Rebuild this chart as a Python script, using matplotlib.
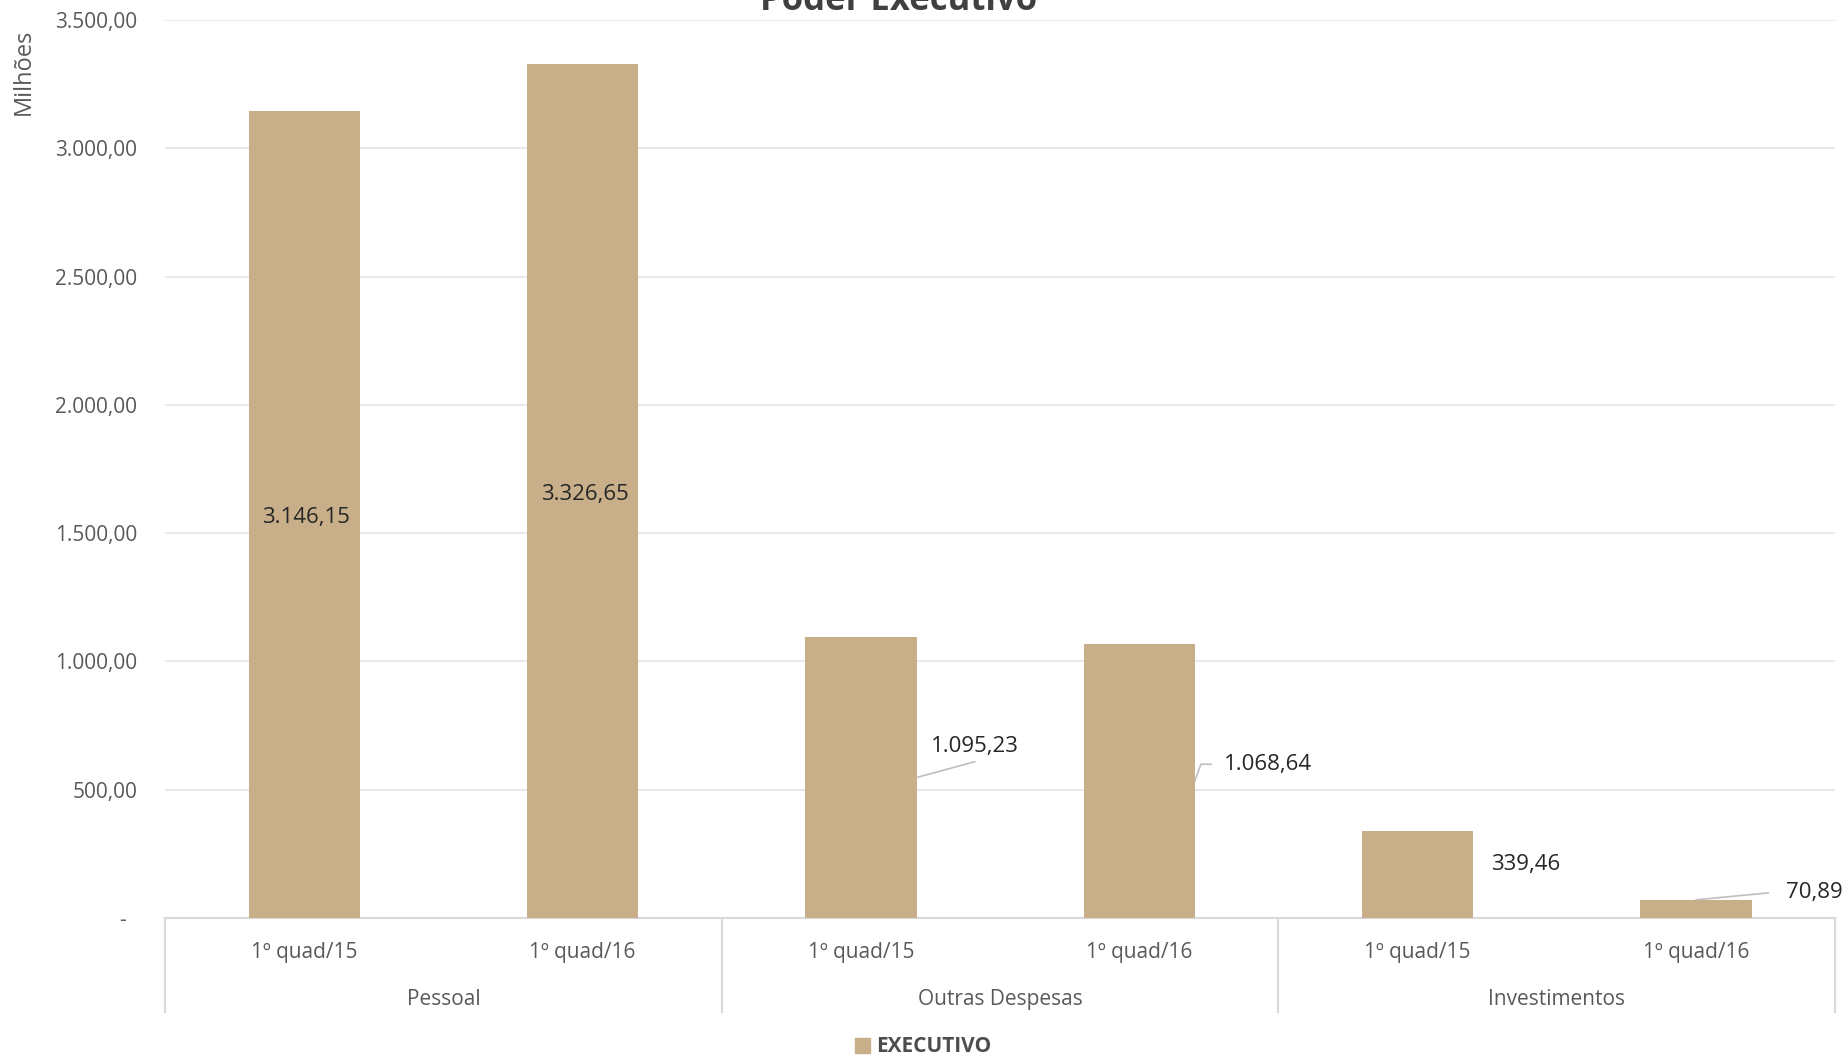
import numpy as np
import matplotlib.pyplot as plt
from matplotlib.patches import Patch

plt.rcParams['font.family'] = ['Open Sans', 'DejaVu Sans']

# data (milhões)
groups = ['Pessoal', 'Outras Despesas', 'Investimentos']
periods = ['1º quad/15', '1º quad/16']
values = [3146.15, 3326.65, 1095.23, 1068.64, 339.46, 70.89]
series_name = 'EXECUTIVO'

bar_color = '#C8AF8A'
grid_color = '#E6E6E6'
text_grey = '#595959'

def br_fmt(v):
    # brazilian number format: 3.146,15
    s = f'{v:,.2f}'
    return s.replace(',', 'X').replace('.', ',').replace('X', '.')

fig = plt.figure(figsize=(18.48, 10.58), dpi=100)
ax = fig.add_axes([0.0893, 0.1323, 0.9037, 0.8488])

x = np.arange(len(values))
width = 0.40
bars = ax.bar(x, values, width=width, color=bar_color, zorder=3)

ax.set_xlim(-0.5, len(values) - 0.5)
ax.set_ylim(0, 3500)
ax.set_yticks(np.arange(0, 3501, 500))
ax.set_yticklabels(['-  ' if t == 0 else br_fmt(t) for t in np.arange(0, 3501, 500)])
ax.yaxis.grid(True, color=grid_color, linewidth=1.3, zorder=0)
ax.tick_params(axis='y', length=0, pad=20, labelsize=15, labelcolor=text_grey)

# period labels under every bar
ax.set_xticks(x)
ax.set_xticklabels(periods * len(groups))
ax.tick_params(axis='x', length=0, pad=17, labelsize=15, labelcolor=text_grey)

for side in ['top', 'right', 'left']:
    ax.spines[side].set_visible(False)
ax.spines['bottom'].set_color('#D9D9D9')
ax.spines['bottom'].set_linewidth(1.5)

# group labels and separators
xt = ax.get_xaxis_transform()
n = len(periods)
for g, name in enumerate(groups):
    center = g * n + (n - 1) / 2
    ax.annotate(name, xy=(center, 0), xycoords=xt, xytext=(0, -59),
                textcoords='offset points', ha='center', va='center',
                fontsize=15, color=text_grey)
for b in range(len(groups) + 1):
    ax.plot([b * n - 0.5] * 2, [0, -0.105], transform=xt, color='#D9D9D9',
            linewidth=1.5, clip_on=False)

# data labels (offsets in points from the anchor)
lead = dict(arrowstyle='-', color='#BFBFBF', linewidth=1.2, shrinkA=0, shrinkB=0)
lab_kw = dict(textcoords='offset points', ha='center', va='center',
              fontsize=16, color='#262626')
ax.annotate(br_fmt(values[0]), xy=(0, values[0] / 2), xytext=(1.5, -2.5), **lab_kw)
ax.annotate(br_fmt(values[1]), xy=(1, values[1] / 2), xytext=(1.5, -2.5), **lab_kw)
ax.annotate(br_fmt(values[2]), xy=(2 + width / 2, values[2] / 2), xytext=(42, 22),
            arrowprops=dict(relpos=(0.5, -0.2), **lead), **lab_kw)
ax.annotate(br_fmt(values[3]), xy=(3 + width / 2, values[3] / 2), xytext=(53, 12),
            arrowprops=dict(relpos=(-0.15, 0.5),
                            connectionstyle='angle,angleA=0,angleB=70,rad=0', **lead),
            **lab_kw)
ax.annotate(br_fmt(values[4]), xy=(4 + width / 2, values[4] / 2), xytext=(38, 7), **lab_kw)
ax.annotate(br_fmt(values[5]), xy=(5, values[5]), xytext=(85, 5),
            arrowprops=dict(relpos=(-0.3, 0.5), **lead), **lab_kw)

fig.text(24 / 1848, 1 - 72 / 1058, 'Milhões', rotation=90, ha='center', va='center',
         fontsize=17, color=text_grey)
fig.text(899 / 1848, 1 - 10 / 1058, 'Poder Executivo', ha='center', va='baseline',
         fontsize=25, fontweight='bold', color='#404040')

fig.legend(handles=[Patch(color=bar_color, label=series_name)], loc='center',
           bbox_to_anchor=(923 / 1848, 1 - 1047 / 1058), frameon=False,
           handlelength=0.7, handleheight=0.7, handletextpad=0.3,
           prop={'weight': 'bold', 'size': 15}, labelcolor='#4D4D4D')

fig.savefig('out.png', dpi=100)
